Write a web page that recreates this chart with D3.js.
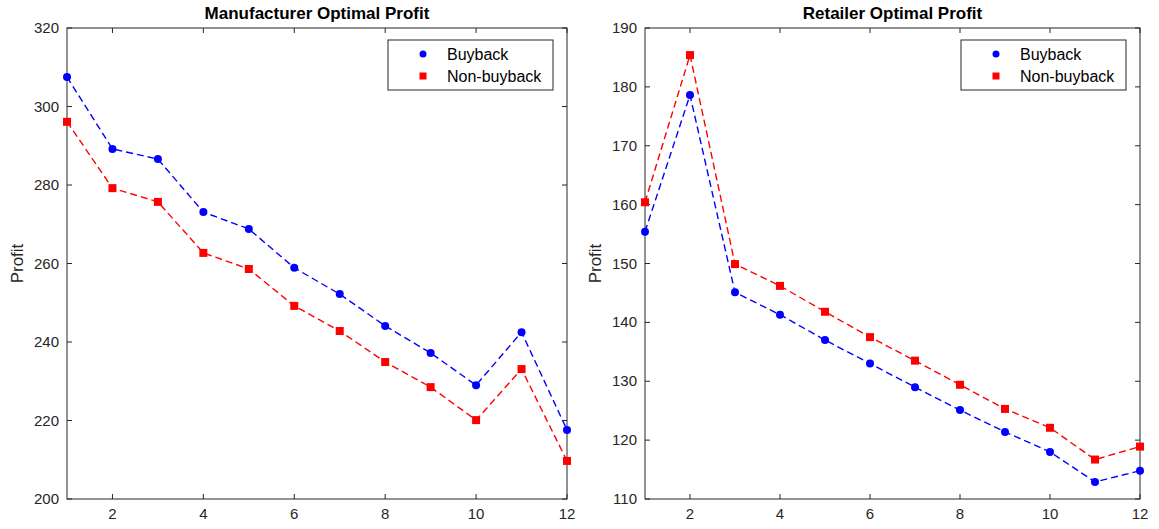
<!DOCTYPE html>
<html><head><meta charset="utf-8">
<script src="https://cdn.jsdelivr.net/npm/d3@7"></script>
<style>body{margin:0;background:#fff}svg{display:block;font-family:Arial,"Liberation Sans",sans-serif}</style>
</head><body><svg id="c" width="1159" height="529"></svg>
<script>
const xValues = [1,2,3,4,5,6,7,8,9,10,11,12];
const xTicks = [2,4,6,8,10,12];
const seriesNames = ["Buyback","Non-buyback"];
const manuBuyback = [307.5,289.2,286.6,273.1,268.8,258.9,252.2,244.1,237.2,229.0,242.5,217.6];
const manuNonBuyback = [296.1,279.2,275.7,262.7,258.6,249.2,242.8,234.9,228.5,220.1,233.1,209.7];
const retBuyback = [155.4,178.6,145.1,141.3,137.0,133.0,129.0,125.1,121.4,118.0,112.9,114.8];
const retNonBuyback = [160.4,185.4,149.9,146.2,141.8,137.5,133.5,129.4,125.3,122.1,116.7,118.9];
const manuYTicks = [200,220,240,260,280,300,320];
const retYTicks = [110,120,130,140,150,160,170,180,190];

const svg = d3.select("#c");
const axisColor = "#262626";

function panel(opt){
  const g = svg.append("g");
  const x = d3.scaleLinear().domain([1,12]).range([opt.x0, opt.x1]);
  const y = d3.scaleLinear().domain(opt.yDomain).range([opt.y1, opt.y0]);
  const tl = 5;
  g.append("rect").attr("x",opt.x0).attr("y",opt.y0).attr("width",opt.x1-opt.x0).attr("height",opt.y1-opt.y0)
    .attr("fill","none").attr("stroke",axisColor).attr("stroke-width",1);
  xTicks.forEach(t=>{
    g.append("line").attr("x1",x(t)).attr("x2",x(t)).attr("y1",opt.y1).attr("y2",opt.y1-tl).attr("stroke",axisColor);
    g.append("line").attr("x1",x(t)).attr("x2",x(t)).attr("y1",opt.y0).attr("y2",opt.y0+tl).attr("stroke",axisColor);
    g.append("text").attr("x",x(t)).attr("y",opt.y1+20).attr("text-anchor","middle").attr("font-size",15).attr("fill",axisColor).text(t);
  });
  opt.yTicks.forEach(t=>{
    g.append("line").attr("x1",opt.x0).attr("x2",opt.x0+tl).attr("y1",y(t)).attr("y2",y(t)).attr("stroke",axisColor);
    g.append("line").attr("x1",opt.x1).attr("x2",opt.x1-tl).attr("y1",y(t)).attr("y2",y(t)).attr("stroke",axisColor);
    g.append("text").attr("x",opt.x0-8).attr("y",y(t)+5).attr("text-anchor","end").attr("font-size",15).attr("fill",axisColor).text(t);
  });
  g.append("text").attr("x",(opt.x0+opt.x1)/2).attr("y",opt.y0-9).attr("text-anchor","middle")
    .attr("font-size",17).attr("font-weight","bold").attr("fill","#000").text(opt.title);
  g.append("text").attr("transform",`translate(${opt.x0-44},${(opt.y0+opt.y1)/2}) rotate(-90)`)
    .attr("text-anchor","middle").attr("font-size",17).attr("fill",axisColor).text("Profit");

  const line = d3.line().x((d,i)=>x(xValues[i])).y(d=>y(d));
  const series = [{v:opt.b,c:"#0000ff",shape:"circle"},{v:opt.n,c:"#ff0000",shape:"square"}];
  series.forEach(s=>{
    g.append("path").datum(s.v).attr("d",line).attr("fill","none").attr("stroke",s.c).attr("stroke-width",1.4)
      .attr("stroke-dasharray","7,4");
    s.v.forEach((d,i)=>{
      if(s.shape==="circle") g.append("circle").attr("cx",x(xValues[i])).attr("cy",y(d)).attr("r",4).attr("fill",s.c);
      else g.append("rect").attr("x",x(xValues[i])-4).attr("y",y(d)-4).attr("width",8).attr("height",8).attr("fill",s.c);
    });
  });
  const lx = opt.x1-179, ly = opt.y0+12, lw=165, lh=50;
  g.append("rect").attr("x",lx).attr("y",ly).attr("width",lw).attr("height",lh).attr("fill","#fff").attr("stroke",axisColor).attr("stroke-width",1);
  seriesNames.forEach((nm,i)=>{
    const cy = ly+14+i*22;
    if(i===0) g.append("circle").attr("cx",lx+35).attr("cy",cy).attr("r",3.5).attr("fill","#0000ff");
    else g.append("rect").attr("x",lx+31.5).attr("y",cy-3.5).attr("width",7).attr("height",7).attr("fill","#ff0000");
    g.append("text").attr("x",lx+59).attr("y",cy+6).attr("font-size",16).attr("fill","#000").text(nm);
  });
}
panel({id:1,x0:67,x1:567,y0:28,y1:499,yDomain:[200,320],yTicks:manuYTicks,title:"Manufacturer Optimal Profit",b:manuBuyback,n:manuNonBuyback});
panel({id:2,x0:645,x1:1140,y0:28,y1:499,yDomain:[110,190],yTicks:retYTicks,title:"Retailer Optimal Profit",b:retBuyback,n:retNonBuyback});
</script></body></html>
